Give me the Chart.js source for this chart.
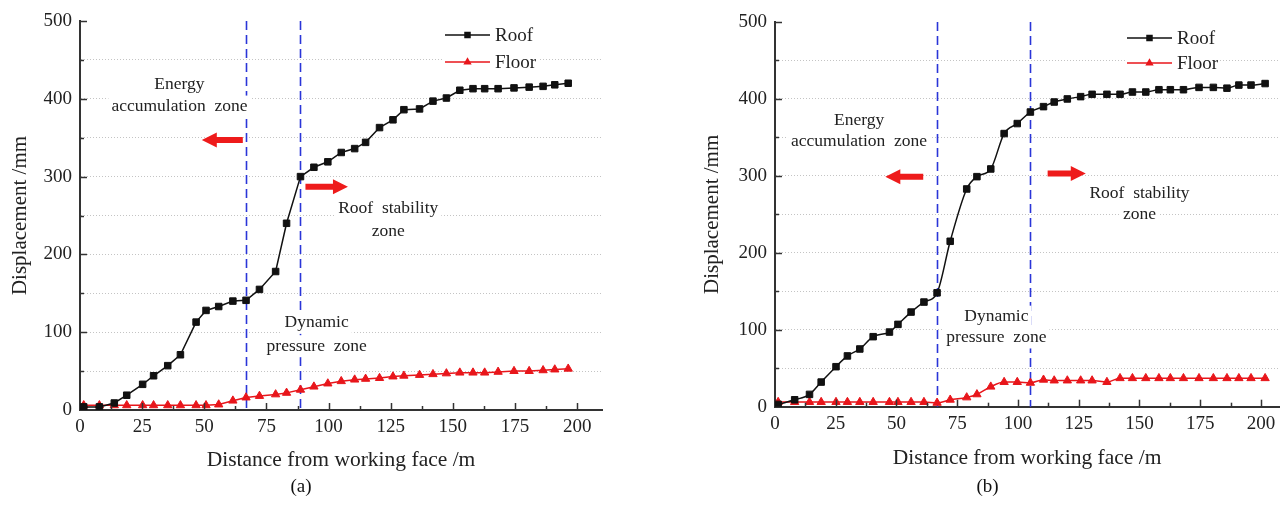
<!DOCTYPE html>
<html>
<head>
<meta charset="utf-8">
<script src="https://cdn.jsdelivr.net/npm/chart.js@4.4.1/dist/chart.umd.min.js"></script>
<style>
html, body { margin: 0; padding: 0; background: #fff; }
.pane { position: absolute; top: 0; height: 506px; }
#paneA { left: 0; width: 640px; }
#paneB { left: 640px; width: 645px; }
</style>
</head>
<body>
<div class="pane" id="paneA"><canvas id="chartA"></canvas></div>
<div class="pane" id="paneB"><canvas id="chartB"></canvas></div>
<script>
// panel (a)
var distA  = [1.5, 7.8, 13.8, 18.8, 25.2, 29.6, 35.3, 40.4, 46.7, 50.7, 55.8, 61.5, 66.8, 72.2, 78.7, 83.1, 88.7, 94.1, 99.7, 105.1, 110.5, 114.9, 120.5, 125.9, 130.3, 136.6, 142, 147.4, 152.8, 158.1, 162.8, 168.2, 174.6, 180.7, 186.3, 191, 196.4];
var roofA  = [4, 4, 9, 19, 33, 44, 57, 71, 113, 128, 133, 140, 141, 155, 178, 240, 300, 312, 319, 331, 336, 344, 363, 373, 386, 387, 397, 401, 411, 413, 413, 413, 414, 415, 416, 418, 420];
var floorA = [6, 6, 6, 6, 6, 6, 6, 6, 6, 6, 7, 12, 16, 18, 20, 22, 26, 30, 34, 37, 39, 40, 41, 43, 44, 45, 46, 47, 48, 48, 48, 49, 50, 50, 51, 52, 53];
var zoneLinesA = [66.8, 88.7];

// panel (b)
var distB  = [1.3, 8.1, 14.2, 19, 25.1, 29.8, 34.9, 40.4, 47.1, 50.6, 56, 61.3, 66.7, 72.1, 78.9, 83.1, 88.8, 94.3, 99.7, 105.1, 110.5, 114.9, 120.3, 125.8, 130.5, 136.6, 142, 147.1, 152.6, 158, 162.7, 168.1, 174.5, 180.4, 186, 190.9, 195.9, 201.7];
var roofB  = [3, 9, 16, 32, 52, 66, 75, 91, 97, 107, 123, 136, 148, 215, 283, 299, 309, 355, 368, 383, 390, 396, 400, 403, 406, 406, 406, 409, 409, 412, 412, 412, 415, 415, 414, 418, 418, 420];
var floorB = [6, 6, 6, 6, 6, 6, 6, 6, 6, 6, 6, 6, 5, 9, 12, 16, 26, 32, 32, 31, 35, 34, 34, 34, 34, 32, 37, 37, 37, 37, 37, 37, 37, 37, 37, 37, 37, 37];
var zoneLinesB = [66.8, 105.1];

var xTickLabels = [0, 25, 50, 75, 100, 125, 150, 175, 200];
var yTickLabels = [0, 100, 200, 300, 400, 500];

// zone texts: [text, x, y] in data units
var textsA = [['Energy', 40, 418], ['accumulation  zone', 40, 390], ['Roof  stability', 124, 259], ['zone', 124, 229], ['Dynamic', 95.2, 112], ['pressure  zone', 95.2, 82]];
var textsB = [['Energy', 34.6, 372], ['accumulation  zone', 34.6, 345], ['Roof  stability', 150, 277], ['zone', 150, 250], ['Dynamic', 91.1, 117], ['pressure  zone', 91.1, 90]];
// arrows: [from x, to x, y]
var arrowsA = [[65.5, 49, 347], [90.7, 107.8, 287]];
var arrowsB = [[61, 45.4, 299], [112.2, 127.9, 303]];

var serif = "'Liberation Serif', 'Times New Roman', serif";

// grid every 50, labels every 100
var yGrid = [];
yTickLabels.forEach(function(v, i){
  yGrid.push(v);
  if (i < yTickLabels.length - 1) yGrid.push((v + yTickLabels[i + 1]) / 2);
});

function drawMarker(ctx, style, x, y, r) {
  ctx.beginPath();
  if (style === 'rect') {
    var s = r * Math.SQRT1_2;
    ctx.rect(x - s, y - s, 2 * s, 2 * s);
  } else {
    ctx.moveTo(x, y - r);
    ctx.lineTo(x + r * 0.866, y + r / 2);
    ctx.lineTo(x - r * 0.866, y + r / 2);
    ctx.closePath();
  }
  ctx.fill();
}

var zonePlugin = {
  id: 'zones',
  beforeDatasetsDraw: function(chart, args, opts) {
    var ctx = chart.ctx, ca = chart.chartArea, xs = chart.scales.x, ys = chart.scales.y;
    ctx.save();
    ctx.strokeStyle = '#2a35d8';
    ctx.lineWidth = 1.6;
    ctx.setLineDash([9, 5]);
    opts.lines.forEach(function(v){
      var px = Math.round(xs.getPixelForValue(v)) + 0.5;
      ctx.beginPath();
      ctx.moveTo(px, ca.top);
      ctx.lineTo(px, ca.bottom);
      ctx.stroke();
    });
    ctx.setLineDash([]);

    ctx.font = '17.5px ' + serif;
    ctx.textAlign = 'center';
    ctx.textBaseline = 'middle';
    opts.texts.forEach(function(t){
      var px = xs.getPixelForValue(t[1]), py = ys.getPixelForValue(t[2]);
      var w = ctx.measureText(t[0]).width;
      ctx.fillStyle = '#fff';
      ctx.fillRect(px - w / 2 - 3, py - 11, w + 6, 22);
      ctx.fillStyle = '#222';
      ctx.fillText(t[0], px, py);
    });

    ctx.fillStyle = '#ee1b1b';
    opts.arrows.forEach(function(a){
      var x0 = xs.getPixelForValue(a[0]), x1 = xs.getPixelForValue(a[1]), py = ys.getPixelForValue(a[2]);
      var dir = x1 > x0 ? 1 : -1, head = 15;
      ctx.beginPath();
      ctx.moveTo(x0, py - 3);
      ctx.lineTo(x1 - dir * head, py - 3);
      ctx.lineTo(x1 - dir * head, py - 7.5);
      ctx.lineTo(x1, py);
      ctx.lineTo(x1 - dir * head, py + 7.5);
      ctx.lineTo(x1 - dir * head, py + 3);
      ctx.lineTo(x0, py + 3);
      ctx.closePath();
      ctx.fill();
    });
    ctx.restore();
  },
  afterDraw: function(chart, args, opts) {
    var ctx = chart.ctx, ca = chart.chartArea, xs = chart.scales.x, ys = chart.scales.y;
    ctx.save();
    // inward ticks
    ctx.strokeStyle = '#333';
    ctx.lineWidth = 1.5;
    var xStep = (xTickLabels[1] - xTickLabels[0]) / 2;
    for (var v = xTickLabels[0] + xStep; v <= xTickLabels[xTickLabels.length - 1]; v += xStep) {
      var px = Math.round(xs.getPixelForValue(v)) + 0.5;
      var len = (v % (2 * xStep) === 0) ? 7 : 4;
      ctx.beginPath(); ctx.moveTo(px, ca.bottom); ctx.lineTo(px, ca.bottom - len); ctx.stroke();
    }
    yGrid.forEach(function(g){
      if (g === 0) return;
      var py = Math.round(ys.getPixelForValue(g)) + 0.5;
      var len = yTickLabels.indexOf(g) >= 0 ? 7 : 4;
      ctx.beginPath(); ctx.moveTo(ca.left, py); ctx.lineTo(ca.left + len, py); ctx.stroke();
    });

    // legend
    var lg = opts.legend;
    ctx.font = '19px ' + serif;
    ctx.textAlign = 'left';
    ctx.textBaseline = 'middle';
    chart.data.datasets.forEach(function(ds, i){
      var y = lg.y[i];
      ctx.fillStyle = '#fff';
      ctx.fillRect(lg.x - 2, y - 11, 95, 22);
      ctx.strokeStyle = ds.borderColor;
      ctx.lineWidth = 1.6;
      ctx.beginPath(); ctx.moveTo(lg.x, y); ctx.lineTo(lg.x + 45, y); ctx.stroke();
      ctx.fillStyle = ds.borderColor;
      drawMarker(ctx, ds.pointStyle, lg.x + 22.5, y, ds.pointRadius);
      ctx.fillStyle = '#222';
      ctx.fillText(ds.label, lg.x + 50, y + 1);
    });
    ctx.restore();
  }
};

function makeChart(id, dist, roof, floor, o) {
  return new Chart(document.getElementById(id), {
    type: 'line',
    data: {
      datasets: [{
        label: 'Roof',
        data: dist.map(function(d, i){ return {x: d, y: roof[i]}; }),
        borderColor: '#111',
        backgroundColor: '#111',
        borderWidth: 1.5,
        pointStyle: 'rect',
        pointRadius: 4.6,
        pointBorderWidth: 1,
        cubicInterpolationMode: o.mode,
        tension: 0
      }, {
        label: 'Floor',
        data: dist.map(function(d, i){ return {x: d, y: floor[i]}; }),
        borderColor: '#e8161b',
        backgroundColor: '#e8161b',
        borderWidth: 1.5,
        pointStyle: 'triangle',
        pointRadius: 4.8,
        pointBorderWidth: 1,
        cubicInterpolationMode: o.mode,
        tension: 0
      }]
    },
    options: {
      responsive: true,
      maintainAspectRatio: false,
      animation: false,
      layout: { padding: o.pad },
      plugins: {
        legend: { display: false },
        tooltip: { enabled: false },
        title: {
          display: true,
          position: 'bottom',
          text: o.caption,
          color: '#111',
          font: { family: serif, size: 19, weight: 'normal' },
          padding: { top: 0, bottom: 8 }
        },
        zones: { lines: o.lines, texts: o.texts, arrows: o.arrows, legend: o.legend }
      },
      scales: {
        x: {
          type: 'linear',
          min: 0,
          max: o.xMax,
          afterBuildTicks: function(s){ s.ticks = xTickLabels.map(function(v){ return {value: v}; }); },
          afterFit: function(s){ s.height = o.xAxisH; },
          grid: { display: false, drawTicks: false },
          border: { display: true, color: '#333', width: 2 },
          ticks: { color: '#222', font: { family: serif, size: 19 }, padding: 6, maxRotation: 0, autoSkip: false },
          title: {
            display: true,
            text: 'Distance from working face /m',
            color: '#222',
            font: { family: serif, size: 21.5 },
            padding: { top: 0, bottom: o.xTitlePad }
          }
        },
        y: {
          min: 0,
          max: 500,
          afterBuildTicks: function(s){ s.ticks = yGrid.map(function(v){ return {value: v}; }); },
          afterFit: function(s){ s.width = o.yAxisW; },
          grid: {
            drawTicks: false,
            color: function(c){ return (c.tick && (c.tick.value === 0 || c.tick.value === 500)) ? 'rgba(0,0,0,0)' : '#c4c4c4'; },
            lineWidth: 1
          },
          border: { display: true, color: '#333', width: 2, dash: [1, 2] },
          ticks: {
            color: '#222',
            font: { family: serif, size: 19 },
            padding: 8,
            autoSkip: false,
            callback: function(v){ return yTickLabels.indexOf(v) >= 0 ? v : ''; }
          },
          title: {
            display: true,
            text: 'Displacement /mm',
            color: '#222',
            font: { family: serif, size: 21 },
            padding: { top: o.yTitlePad, bottom: 0 }
          }
        }
      }
    },
    plugins: [zonePlugin]
  });
}

makeChart('chartA', distA, roofA, floorA, {
  caption: '(a)', mode: 'default', xMax: 210,
  pad: { left: 0, top: 21, right: 38, bottom: 0 },
  yAxisW: 80, xAxisH: 65.2, xTitlePad: 2, yTitlePad: 8,
  lines: zoneLinesA, texts: textsA, arrows: arrowsA,
  legend: { x: 445, y: [35, 62] }
});

makeChart('chartB', distB, roofB, floorB, {
  caption: '(b)', mode: 'monotone', xMax: 207.5,
  pad: { left: 50, top: 22, right: 0, bottom: 0 },
  yAxisW: 85, xAxisH: 68.5, xTitlePad: 4, yTitlePad: 10,
  lines: zoneLinesB, texts: textsB, arrows: arrowsB,
  legend: { x: 487, y: [38, 63] }
});
</script>
</body>
</html>
